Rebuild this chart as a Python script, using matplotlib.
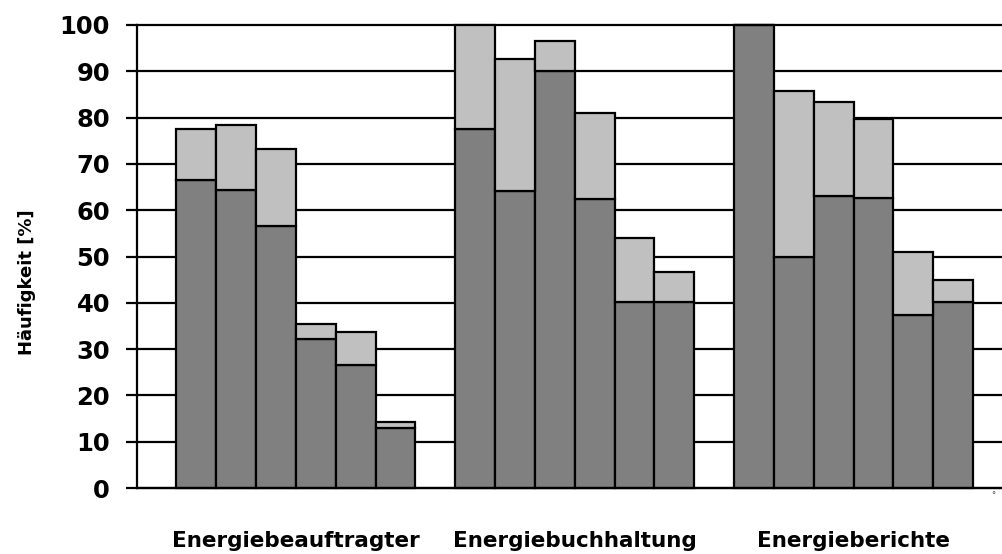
import matplotlib
matplotlib.use("Agg")
import matplotlib.pyplot as plt

# Categories and stacked shares (dark base + light additional share), in percent
categories = ["Energiebeauftragter", "Energiebuchhaltung", "Energieberichte"]
base_share = [
    [66.6, 64.3, 56.6, 32.2, 26.5, 12.9],
    [77.6, 64.1, 90.0, 62.5, 40.2, 40.2],
    [100.0, 50.0, 63.1, 62.6, 37.3, 40.1],
]
extra_share = [
    [10.9, 14.2, 16.6, 3.3, 7.3, 1.4],
    [22.4, 28.6, 6.6, 18.6, 13.7, 6.5],
    [0.0, 35.7, 20.2, 17.0, 13.7, 4.9],
]
yticks = list(range(0, 101, 10))
ylabel = "Häufigkeit [%]"

dark = "#808080"
light = "#c0c0c0"

fig = plt.figure(figsize=(10.03, 5.54), dpi=100)
ax = fig.add_axes([0.1361, 66 / 554, 0.8639, 463 / 554])

n_bars = len(base_share[0])
group_step = n_bars + 1
centers = []
for g, (base, extra) in enumerate(zip(base_share, extra_share)):
    xs = [1 + g * group_step + i for i in range(n_bars)]
    ax.bar(xs, base, width=1.0, align="edge", color=dark,
           edgecolor="black", linewidth=1.6, zorder=3)
    ax.bar(xs, extra, bottom=base, width=1.0, align="edge", color=light,
           edgecolor="black", linewidth=1.6, zorder=3)
    centers.append(xs[0] + n_bars / 2)

ax.set_xlim(0, 21.75)
ax.set_ylim(0, 100)
ax.set_yticks(yticks)
ax.set_yticklabels([str(v) for v in yticks], fontsize=17.5, fontweight="bold")
ax.tick_params(axis="y", direction="out", length=8, width=1.6, pad=11)

ax.set_xticks(centers)
ax.set_xticklabels(categories, fontsize=15.5, fontweight="bold")
ax.tick_params(axis="x", length=0, pad=31)

ax.yaxis.grid(True, color="black", linewidth=1.6, zorder=0)
ax.set_axisbelow(True)
for gl in ax.get_ygridlines():
    gl.set_clip_on(False)
for patch in ax.patches:
    patch.set_clip_on(False)

for side in ("top", "right"):
    ax.spines[side].set_visible(False)
ax.spines["left"].set_linewidth(1.6)
ax.spines["bottom"].set_linewidth(1.6)
ax.spines["left"].set_zorder(4)
ax.spines["bottom"].set_zorder(4)

fig.text(27 / 1003, 1 - 282 / 554, ylabel, rotation=90, ha="center",
         va="center", fontsize=13, fontweight="bold")
fig.text(993 / 1003, 1 - 496 / 554, "°", ha="center", va="center",
         fontsize=6, color="#444444")

fig.savefig("out.png", dpi=100, facecolor="white")
